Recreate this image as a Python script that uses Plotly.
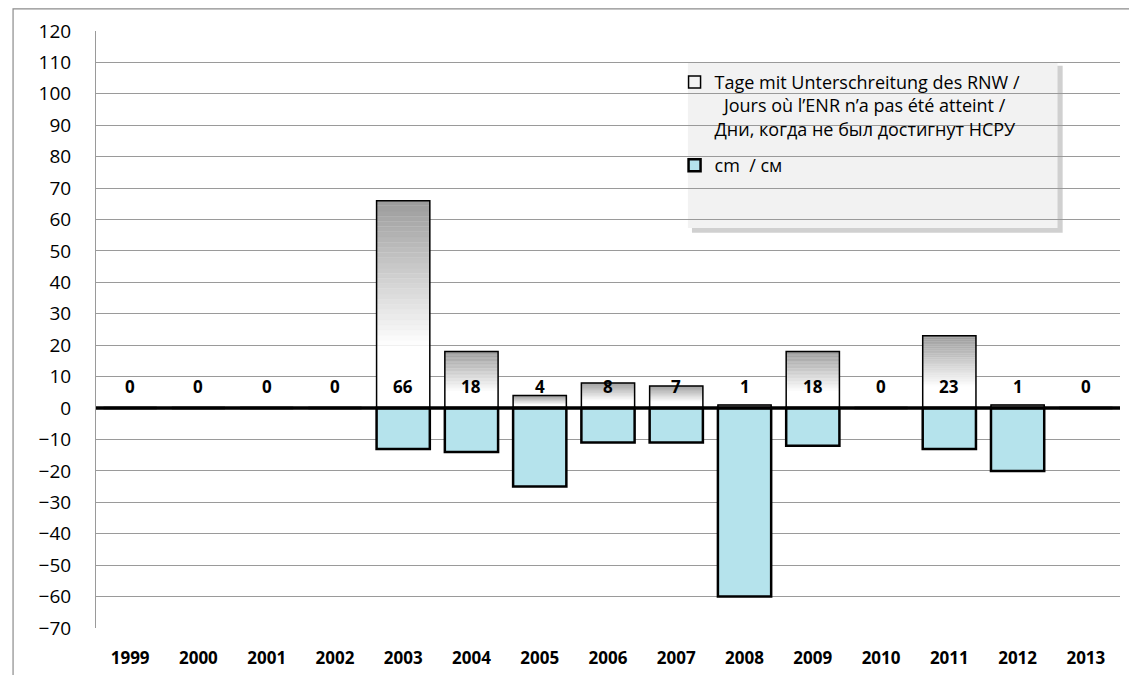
import plotly.graph_objects as go

years = [1999, 2000, 2001, 2002, 2003, 2004, 2005, 2006,
         2007, 2008, 2009, 2010, 2011, 2012, 2013]
days_below = [0, 0, 0, 0, 66, 18, 4, 8, 7, 1, 18, 0, 23, 1, 0]
cm_below = [0, 0, 0, 0, -13, -14, -25, -11, -11, -60, -12, 0, -13, -20, 0]
y_ticks = list(range(-70, 121, 10))

name_days = ("Tage mit Unterschreitung des RNW /<br>"
             "\u00a0\u00a0Jours où l’ENR n’a pas été atteint /<br>"
             "Дни, когда не был достигнут НСРУ")
name_cm = "cm  / см"

FONT = "Open Sans"
BAR_W = 0.78
fig = go.Figure()

# gradient fill for positive bars (grey at top -> white lower down), built as slices
N = 40
for k in range(N):
    t_top = 1 - (k + 0.5) / N  # 0 at top of bar, 1 at bottom
    f = min(1.0, t_top / 0.7)
    g = int(round(155 + (255 - 155) * f))
    fig.add_trace(go.Bar(
        x=years, y=[v / N for v in days_below], base=[v * k / N for v in days_below],
        width=BAR_W,
        marker=dict(color=f"rgb({g},{g},{g})", line=dict(width=0.3, color=f"rgb({g},{g},{g})")),
        showlegend=False, hoverinfo="skip"))

# outline of positive bars (legend item)
fig.add_trace(go.Bar(
    x=years, y=days_below, name=name_days, legendrank=1, legendgroup="days",
    width=BAR_W,
    marker=dict(color="rgba(0,0,0,0)", line=dict(color="black", width=1.5))))

# negative bars
fig.add_trace(go.Bar(
    x=years, y=cm_below, name=name_cm, legendrank=2, legendgroup="cm",
    width=BAR_W,
    marker=dict(color="#b5e3ec", line=dict(color="black", width=2.5))))

# value labels
for yr, v in zip(years, days_below):
    fig.add_annotation(x=yr, y=7, text=f"<b>{v}</b>", showarrow=False,
                       font=dict(family=FONT, size=17, color="black"))

# zero line
fig.add_shape(type="line", xref="paper", yref="y", x0=0, x1=1, y0=0, y1=0,
              line=dict(color="black", width=3.5), layer="above")

# outer frame (left & top)
fig.add_shape(type="path", xref="paper", yref="paper",
              path="M -0.081 -0.09 L -0.081 1.037 L 1.03 1.037",
              line=dict(color="#8c8c8c", width=1.2), layer="above")

# legend box with shadow
fig.add_shape(type="rect", xref="paper", yref="paper",
              x0=0.582, x1=0.944, y0=0.662, y1=0.942,
              fillcolor="rgba(120,120,120,0.35)", line=dict(width=0), layer="between")
fig.add_shape(type="rect", xref="paper", yref="paper",
              x0=0.578, x1=0.939, y0=0.670, y1=0.948,
              fillcolor="#f2f2f2", line=dict(width=0), layer="between")

fig.update_layout(
    width=1137, height=675,
    margin=dict(l=88, r=25, t=23, b=55),
    paper_bgcolor="white", plot_bgcolor="white",
    barmode="overlay",
    font=dict(family=FONT, size=17, color="black"),
    showlegend=True,
    legend=dict(x=0.565, y=0.945, xanchor="left", yanchor="top", valign="top",
                bgcolor="rgba(0,0,0,0)", font=dict(family=FONT, size=18),
                tracegroupgap=10, itemwidth=30),
    xaxis=dict(range=[1998.5, 2013.5], tickvals=years,
               ticktext=[f"<b>{y}</b>" for y in years], showgrid=False,
               showline=False, ticks="", zeroline=False, automargin=False,
               tickfont=dict(family=FONT, size=17), ticklabelstandoff=18),
    yaxis=dict(range=[-70, 120], tickvals=y_ticks, showgrid=True,
               gridcolor="#9a9a9a", gridwidth=1, zeroline=False, automargin=False,
               showline=True, linecolor="#9a9a9a", linewidth=1, ticks="",
               tickfont=dict(family=FONT, size=19), ticklabelstandoff=20),
)

fig.write_html("out.html")
